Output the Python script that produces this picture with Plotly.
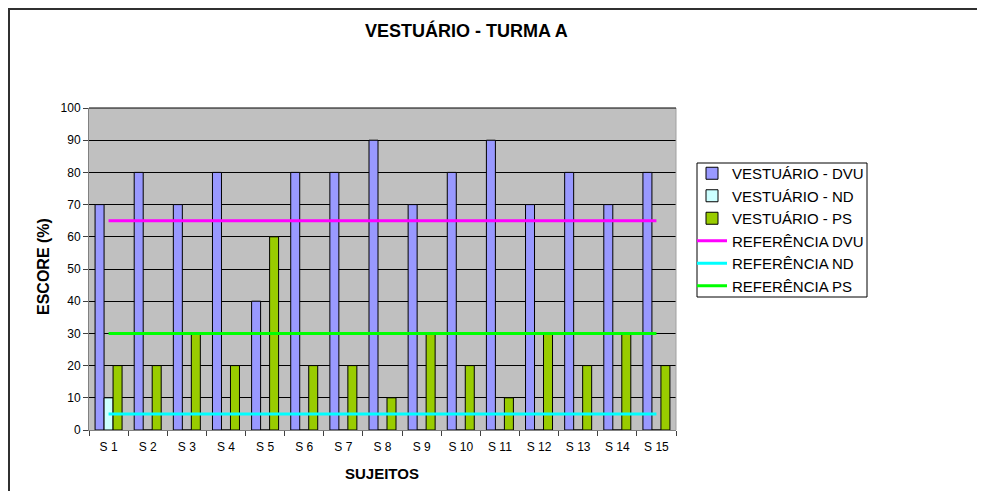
import plotly.graph_objects as go

categories = ["S 1", "S 2", "S 3", "S 4", "S 5", "S 6", "S 7", "S 8", "S 9", "S 10",
              "S 11", "S 12", "S 13", "S 14", "S 15"]
dvu = [70, 80, 70, 80, 40, 80, 80, 90, 70, 80, 90, 70, 80, 70, 80]
nd = [10, 0, 0, 0, 0, 0, 0, 0, 0, 0, 0, 0, 0, 0, 0]
ps = [20, 20, 30, 20, 60, 20, 20, 10, 30, 20, 10, 30, 20, 30, 20]
ref_dvu = [65] * 15
ref_nd = [5] * 15
ref_ps = [30] * 15
y_ticks = [0, 10, 20, 30, 40, 50, 60, 70, 80, 90, 100]

OFF = 8  # page body margin
W, H = 985 - OFF, 491 - OFF
L = 89 - OFF
T = 108 - OFF
R = W - (676 - OFF)
B = H - (430 - OFF)
pw, ph = W - L - R, H - T - B

def px(x):  # page pixel -> paper
    return (x - OFF - L) / pw

def py(y):
    return (H - B - (y - OFF)) / ph

ARIAL = "Arial, Liberation Sans, sans-serif"

fig = go.Figure()
bar_line = dict(color="black", width=1)
fig.add_bar(x=categories, y=dvu, name="VESTUÁRIO - DVU",
            marker=dict(color="#9999FF", line=bar_line))
fig.add_bar(x=categories, y=nd, name="VESTUÁRIO - ND",
            marker=dict(color="#CCFFFF", line=bar_line))
fig.add_bar(x=categories, y=ps, name="VESTUÁRIO - PS",
            marker=dict(color="#99CC00", line=bar_line))
fig.add_scatter(x=categories, y=ref_dvu, name="REFERÊNCIA DVU", mode="lines",
                line=dict(color="#FF00FF", width=3))
fig.add_scatter(x=categories, y=ref_nd, name="REFERÊNCIA ND", mode="lines",
                line=dict(color="#00FFFF", width=3))
fig.add_scatter(x=categories, y=ref_ps, name="REFERÊNCIA PS", mode="lines",
                line=dict(color="#00FF00", width=3))

fig.update_layout(
    width=W, height=H,
    margin=dict(l=L, r=R, t=T, b=B, autoexpand=False),
    paper_bgcolor="white",
    plot_bgcolor="#C0C0C0",
    font=dict(family=ARIAL, size=12, color="black"),
    barmode="group",
    bargap=0.31,
    bargroupgap=0,
    showlegend=True,
    legend=dict(x=px(692), y=py(157), xanchor="left", yanchor="top",
                borderwidth=0, bgcolor="rgba(0,0,0,0)",
                font=dict(family=ARIAL, size=15, color="black"),
                tracegroupgap=0, itemwidth=30),
    xaxis=dict(
        type="category",
        showline=True, linecolor="#808080", linewidth=1,
        ticks="outside", tickson="boundaries", ticklen=5, tickcolor="#404040",
        showgrid=False, tickfont=dict(size=12), ticklabelstandoff=6,
    ),
    yaxis=dict(
        range=[0, 100], tickvals=y_ticks,
        showline=True, linecolor="#808080", linewidth=1,
        ticks="outside", ticklen=5, tickcolor="#404040",
        showgrid=True, gridcolor="black", gridwidth=1,
        zeroline=False, tickfont=dict(size=12),
    ),
    annotations=[
        dict(text="<b>VESTUÁRIO - TURMA A</b>", x=px(466), y=py(30),
             xref="paper", yref="paper", showarrow=False,
             xanchor="center", yanchor="middle",
             font=dict(size=18, color="black")),
        dict(text="<b>SUJEITOS</b>", x=px(382), y=py(473),
             xref="paper", yref="paper", showarrow=False,
             xanchor="center", yanchor="middle",
             font=dict(size=15, color="black")),
        dict(text="<b>ESCORE (%)</b>", x=px(43), y=py(267), textangle=-90,
             xref="paper", yref="paper", showarrow=False,
             xanchor="center", yanchor="middle",
             font=dict(size=16, color="black")),
    ],
    shapes=[
        dict(type="rect", xref="paper", yref="paper",
             x0=px(9), x1=px(995), y0=py(500), y1=py(9),
             line=dict(color="#303030", width=2), layer="below"),
        dict(type="rect", xref="paper", yref="paper",
             x0=px(697), x1=px(867), y0=py(297), y1=py(163),
             line=dict(color="black", width=1), fillcolor="white", layer="below"),
        dict(type="line", xref="paper", yref="paper",
             x0=1, x1=1, y0=0, y1=1, line=dict(color="#A0A0A0", width=1)),
        dict(type="line", xref="paper", yref="paper",
             x0=0, x1=1, y0=1, y1=1, line=dict(color="black", width=1)),
    ],
)

fig.write_html("out.html")
